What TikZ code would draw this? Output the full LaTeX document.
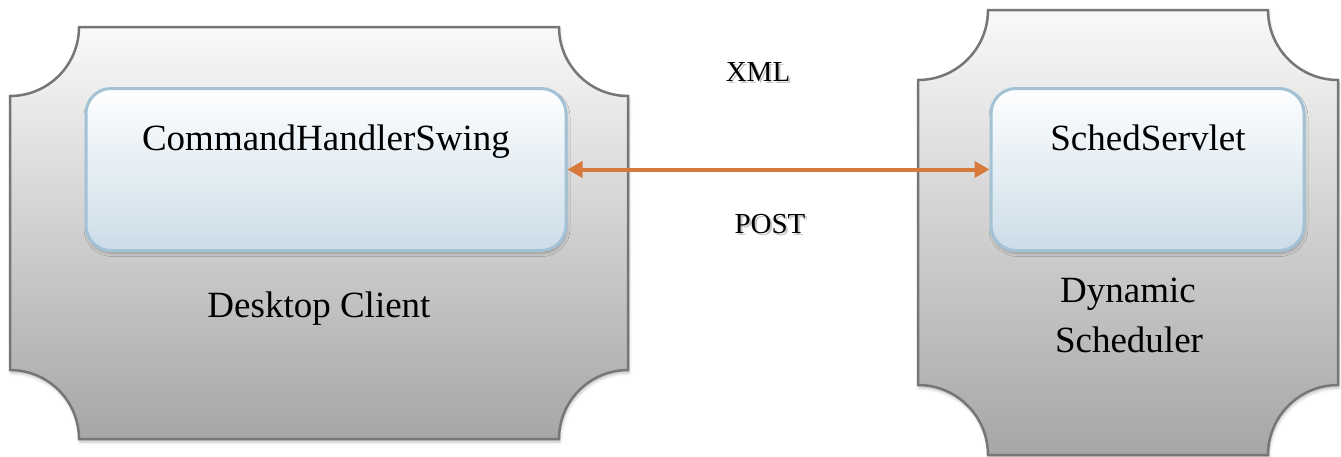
\documentclass[tikz,border=0pt]{standalone}
\usepackage{fontspec}
\setmainfont{Liberation Serif}
\usetikzlibrary{arrows.meta,shadows.blur}

\definecolor{plaqueedge}{RGB}{118,118,118}
\definecolor{plaquetop}{RGB}{249,249,249}
\definecolor{plaquebottom}{RGB}{166,166,166}
\definecolor{boxedge}{RGB}{163,194,213}
\definecolor{boxtop}{RGB}{253,254,255}
\definecolor{boxbottom}{RGB}{204,221,232}
\definecolor{linkcolor}{RGB}{216,121,60}

\tikzset{
  plaque/.style={draw=plaqueedge, line width=2.5pt,
    top color=plaquetop, bottom color=plaquebottom,
    blur shadow={shadow xshift=1pt, shadow yshift=-3pt,
      shadow opacity=25, shadow blur radius=3pt}},
  compbox/.style={draw=boxedge, line width=3pt, rounded corners=25pt,
    top color=boxtop, bottom color=boxbottom, inner sep=0pt,
    blur shadow={shadow xshift=1pt, shadow yshift=-3pt,
      shadow opacity=25, shadow blur radius=3pt}},
  mainlabel/.style={font=\fontsize{37}{50}\selectfont, inner sep=0pt, anchor=base},
  msglabel/.style={font=\fontsize{29}{34}\selectfont, inner sep=0pt, anchor=base},
  msgshadow/.style={msglabel, text=black, opacity=0.22},
  link/.style={draw=linkcolor, line width=4pt,
    arrows={Triangle[length=15pt,width=16pt]-Triangle[length=15pt,width=16pt]}}
}

% plaque outline: rectangle (#1,#2)-(#3,#4) with concave corners of radius #5
\newcommand\plaqueshape[5]{%
  \path[plaque] (#1+#5,#2) -- (#3-#5,#2)
    arc[start angle=180, end angle=90, radius=#5]
    -- (#3,#4-#5)
    arc[start angle=270, end angle=180, radius=#5]
    -- (#1+#5,#4)
    arc[start angle=0, end angle=-90, radius=#5]
    -- (#1,#2+#5)
    arc[start angle=90, end angle=0, radius=#5]
    -- cycle;}

\begin{document}
\begin{tikzpicture}[x=1pt, y=-1pt]
  \useasboundingbox (0,0) rectangle (1341,456);

  % outer containers
  \plaqueshape{10}{27}{628}{439}{69}
  \plaqueshape{918}{10}{1338}{455}{70}

  % components
  \node[compbox, minimum width=480pt, minimum height=162pt] (cmd) at (326,169.5) {};
  \node[compbox, minimum width=313pt, minimum height=162pt] (servlet) at (1147.5,169.5) {};

  \node[mainlabel] (cmdtext) at (326,150) {CommandHandlerSwing};
  \node[mainlabel] (servlettext) at (1148,150) {SchedServlet};

  \node[mainlabel] (clienttext) at (319,317) {Desktop Client};
  \node[mainlabel] (dyntext) at (1128,302) {Dynamic};
  \node[mainlabel] (schedtext) at (1129,352) {Scheduler};

  % request / response link
  \draw[link] (cmd.east) -- (servlet.west);

  % message labels with soft shadow
  \node[msgshadow] (xmlshade) at (760,83.5) {XML};
  \node[msglabel] (xmltext) at (758,81) {XML};
  \node[msgshadow] (postshade) at (772,235.5) {POST};
  \node[msglabel] (posttext) at (770,233) {POST};
\end{tikzpicture}
\end{document}
